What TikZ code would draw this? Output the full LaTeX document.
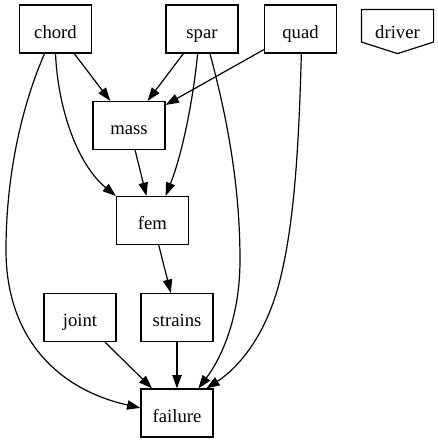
\documentclass[tikz,border=0pt]{standalone}
\usepackage{fontspec}
\setmainfont{Liberation Serif}
\usetikzlibrary{arrows.meta,calc}
\tikzset{
  module/.style={shape=rectangle, draw=black, line width=0.9pt, minimum width=54pt, minimum height=36pt, inner sep=0pt, text height=14pt, text depth=0pt, font=\fontsize{14}{16}\selectfont},
  dep/.style={-{Triangle[length=10pt,width=7pt]}, line width=0.9pt, draw=black}
}
\begin{document}
\begin{tikzpicture}[x=0.75pt, y=-0.75pt]
\useasboundingbox (0,0) rectangle (438,443);
\node[module] (chord) at (55.5, 29) {chord};
\node[module] (spar) at (202, 29) {spar};
\node[module] (quad) at (300.5, 29) {quad};
\node[module, draw=none, minimum width=53.25pt] (driver) at (397.5, 29) {driver};
\draw[line width=0.9pt] ($(driver.north west)+(0,5)$) -- ($(driver.north east)+(0,5)$) -- ($(driver.east)+(0,13)$) -- (driver.south) -- ($(driver.west)+(0,13)$) -- cycle;
\node[module] (mass) at (129, 125.5) {mass};
\node[module] (fem) at (152.5, 220.5) {fem};
\node[module] (joint) at (80, 317.5) {joint};
\node[module] (strains) at (177, 317.5) {strains};
\node[module] (failure) at (177, 413) {failure};
% straight dependencies
\path [dep] (chord) edge (mass);
\path [dep] (spar) edge (mass);
\path [dep] (quad) edge (mass);
\path [dep] (mass) edge (fem);
\path [dep] (fem) edge (strains);
\path [dep] (strains) edge (failure);
\path [dep] (joint) edge (failure);
% curved dependencies
\draw [dep] (chord.south) .. controls (58,110) and (78,165) .. (fem.north west);
\draw [dep] (chord.-114) .. controls (20,110) and (6,180) .. (6,250) .. controls (6,340) and (60,390) .. (failure.172);
\draw [dep] (spar.-100) .. controls (192,110) and (180,160) .. (fem.62);
\draw [dep] (spar.-72) .. controls (225,110) and (240,180) .. (240,260) .. controls (240,320) and (220,360) .. (failure.49);
\draw [dep] (quad.-88) .. controls (299,140) and (295,220) .. (280,280) .. controls (265,340) and (235,370) .. (failure.40);
\end{tikzpicture}
\end{document}
